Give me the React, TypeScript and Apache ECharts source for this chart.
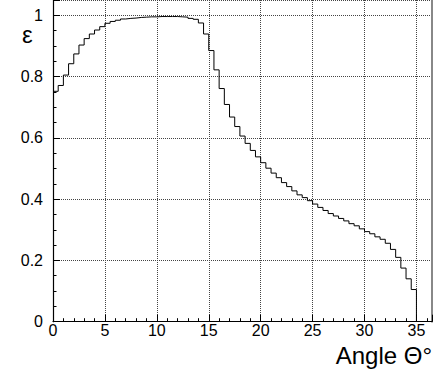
import React, { useEffect, useRef } from "react";
import * as echarts from "echarts";

// Histogram: efficiency per 0.5° bin, from 0° to 35°
const BIN_WIDTH = 0.5;
const EFFICIENCY = [
  0.752, 0.771, 0.805, 0.842, 0.874, 0.903, 0.924, 0.939, 0.952, 0.963,
  0.974, 0.98, 0.984, 0.988, 0.99, 0.991, 0.993, 0.994, 0.995, 0.995,
  0.996, 0.996, 0.996, 0.996, 0.995, 0.994, 0.99, 0.987, 0.975, 0.939,
  0.885, 0.822, 0.761, 0.709, 0.668, 0.637, 0.606, 0.582, 0.559, 0.538,
  0.519, 0.501, 0.485, 0.47, 0.454, 0.441, 0.427, 0.414, 0.405, 0.395,
  0.384, 0.373, 0.363, 0.353, 0.345, 0.337, 0.329, 0.32, 0.313, 0.303,
  0.294, 0.287, 0.277, 0.269, 0.256, 0.236, 0.21, 0.175, 0.14, 0.105,
];
const X_MIN = 0;
const X_MAX = 36.5;
const X_INTERVAL = 5;
const Y_MIN = 0;
const Y_MAX = 1.05;
const Y_INTERVAL = 0.2;
const X_TITLE = "Angle Θ°";
const Y_TITLE = "ε";

const FONT = '"Liberation Sans", Arial, Helvetica, sans-serif';

export default function App() {
  const ref = useRef<HTMLDivElement>(null);
  useEffect(() => {
    if (!ref.current) return;
    const chart = echarts.init(ref.current, undefined, { renderer: "svg" });
    const data: [number, number][] = EFFICIENCY.map((v, i) => [i * BIN_WIDTH, v]);
    data.push([EFFICIENCY.length * BIN_WIDTH, 0]);

    const splitLine = {
      show: true,
      lineStyle: { color: "#444", type: [1, 1] as any, width: 1 },
    };
    chart.setOption({
      animation: false,
      grid: { left: 53, right: 1, top: -1, bottom: 55.3, containLabel: false },
      xAxis: {
        type: "value",
        min: X_MIN,
        max: X_MAX,
        interval: X_INTERVAL,
        axisLine: { show: true, lineStyle: { color: "#000", width: 1.2 } },
        axisTick: { show: true, inside: true, length: 7, lineStyle: { color: "#000" } },
        minorTick: { show: true, splitNumber: 5, length: 3.5, lineStyle: { color: "#000" } },
        splitLine,
        axisLabel: {
          fontSize: 16,
          color: "#000",
          fontFamily: FONT,
          margin: 1,
          showMaxLabel: false,
        },
      },
      yAxis: [
        {
          type: "value",
          min: Y_MIN,
          max: Y_MAX,
          interval: Y_INTERVAL,
          axisLine: { show: true, lineStyle: { color: "#000", width: 1.2 } },
          axisTick: { show: true, inside: true, length: 7, lineStyle: { color: "#000" } },
          minorTick: { show: true, splitNumber: 4, length: 3.5, lineStyle: { color: "#000" } },
          splitLine,
          axisLabel: {
            fontSize: 16,
            color: "#000",
            fontFamily: FONT,
            margin: 10,
            showMaxLabel: false,
          },
        },
        {
          type: "value",
          position: "right",
          min: Y_MIN,
          max: Y_MAX,
          axisLine: { show: true, lineStyle: { color: "#888", width: 2 } },
          axisTick: { show: false },
          axisLabel: { show: false },
          splitLine: { show: false },
        },
      ],
      series: [
        {
          type: "line",
          step: "end",
          data,
          symbol: "none",
          lineStyle: { color: "#000", width: 1 },
          z: 5,
        },
      ],
      graphic: [
        {
          type: "text",
          right: 1,
          top: 343,
          style: { text: X_TITLE, font: `24px ${FONT}`, fill: "#000" },
        },
        {
          type: "text",
          left: 22,
          top: 22,
          style: { text: Y_TITLE, font: `24px ${FONT}`, fill: "#000" },
        },
      ],
    });
    return () => chart.dispose();
  }, []);
  return (
    <div
      ref={ref}
      style={{ position: "absolute", left: 0, top: 0, width: 433, height: 377 }}
    />
  );
}
